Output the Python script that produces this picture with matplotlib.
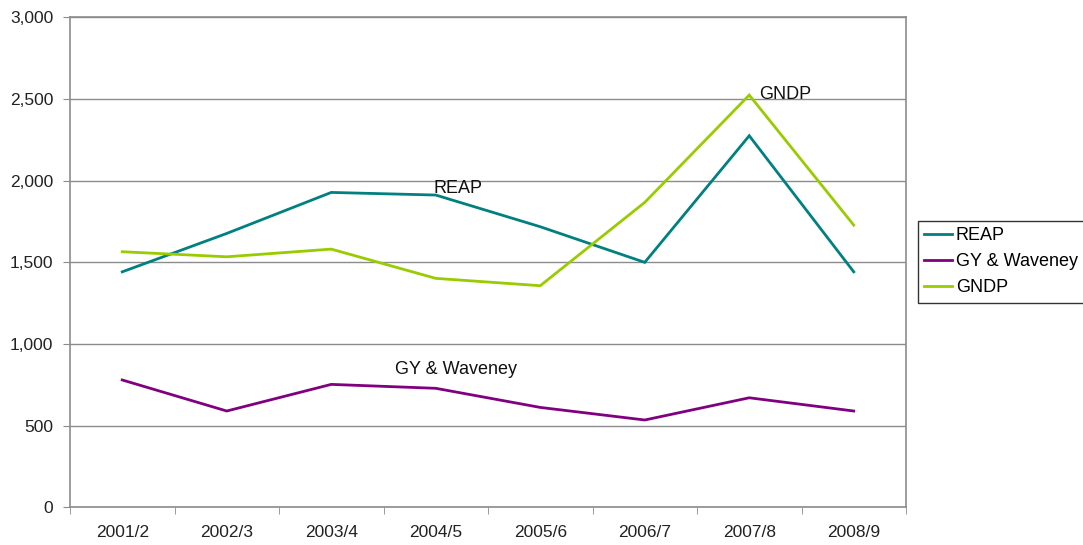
import matplotlib
matplotlib.use("Agg")
import matplotlib.pyplot as plt
import numpy as np
from matplotlib.ticker import FuncFormatter, FixedLocator

plt.rcParams['font.family'] = ['Liberation Sans', 'DejaVu Sans']

years = ["2001/2", "2002/3", "2003/4", "2004/5", "2005/6", "2006/7", "2007/8", "2008/9"]
reap = [1442, 1677, 1928, 1912, 1718, 1500, 2275, 1442]
gy_waveney = [780, 590, 753, 729, 612, 535, 671, 590]
gndp = [1565, 1534, 1581, 1402, 1357, 1867, 2524, 1728]

series_names = ["REAP", "GY & Waveney", "GNDP"]
colors = ["#008080", "#800080", "#99CC00"]

fig = plt.figure(figsize=(10.83, 5.45), dpi=100)
ax = fig.add_axes([70/1083, 1 - 507.4/545, (906-70)/1083, (507.4-17.3)/545])

x = np.arange(len(years))
for vals, name, c in zip([reap, gy_waveney, gndp], series_names, colors):
    ax.plot(x, vals, color=c, lw=2.0, label=name, solid_joinstyle='miter')

ax.set_xlim(-0.5, len(years) - 0.5)
ax.set_ylim(0, 3000)
ax.set_yticks(np.arange(0, 3001, 500))
ax.yaxis.set_major_formatter(FuncFormatter(lambda v, p: f"{int(v):,}"))
ax.grid(axis='y', color='#8c8c8c', lw=1)
ax.set_axisbelow(True)

ax.set_xticks(x)
ax.set_xticklabels(years)
ax.xaxis.set_minor_locator(FixedLocator(np.arange(-0.5, len(years), 1)))
ax.tick_params(axis='x', which='major', length=0, pad=13, labelsize=12.5, colors='#222222')
ax.tick_params(axis='x', which='minor', length=5, color='#8c8c8c', direction='out')
ax.tick_params(axis='y', length=5, color='#8c8c8c', pad=7, labelsize=12.5, labelcolor='#222222')

for s in ax.spines.values():
    s.set_color('#8c8c8c')
    s.set_linewidth(1.2)

ax.text(2.975, 1952, "REAP", fontsize=13, ha='left', va='center', color='#111111')
ax.text(6.09, 2530, "GNDP", fontsize=13, ha='left', va='center', color='#111111')
ax.text(2.61, 847, "GY & Waveney", fontsize=13, ha='left', va='center', color='#111111')

leg = fig.legend(loc='upper left', bbox_to_anchor=(918/1083, 1 - 221/545),
                 fontsize=13, frameon=True, fancybox=False, edgecolor='black',
                 handlelength=1.55, handletextpad=0.2, labelspacing=0.5,
                 borderpad=0.35, borderaxespad=0)
leg.get_frame().set_linewidth(1.0)

fig.savefig("out.png", dpi=100)
